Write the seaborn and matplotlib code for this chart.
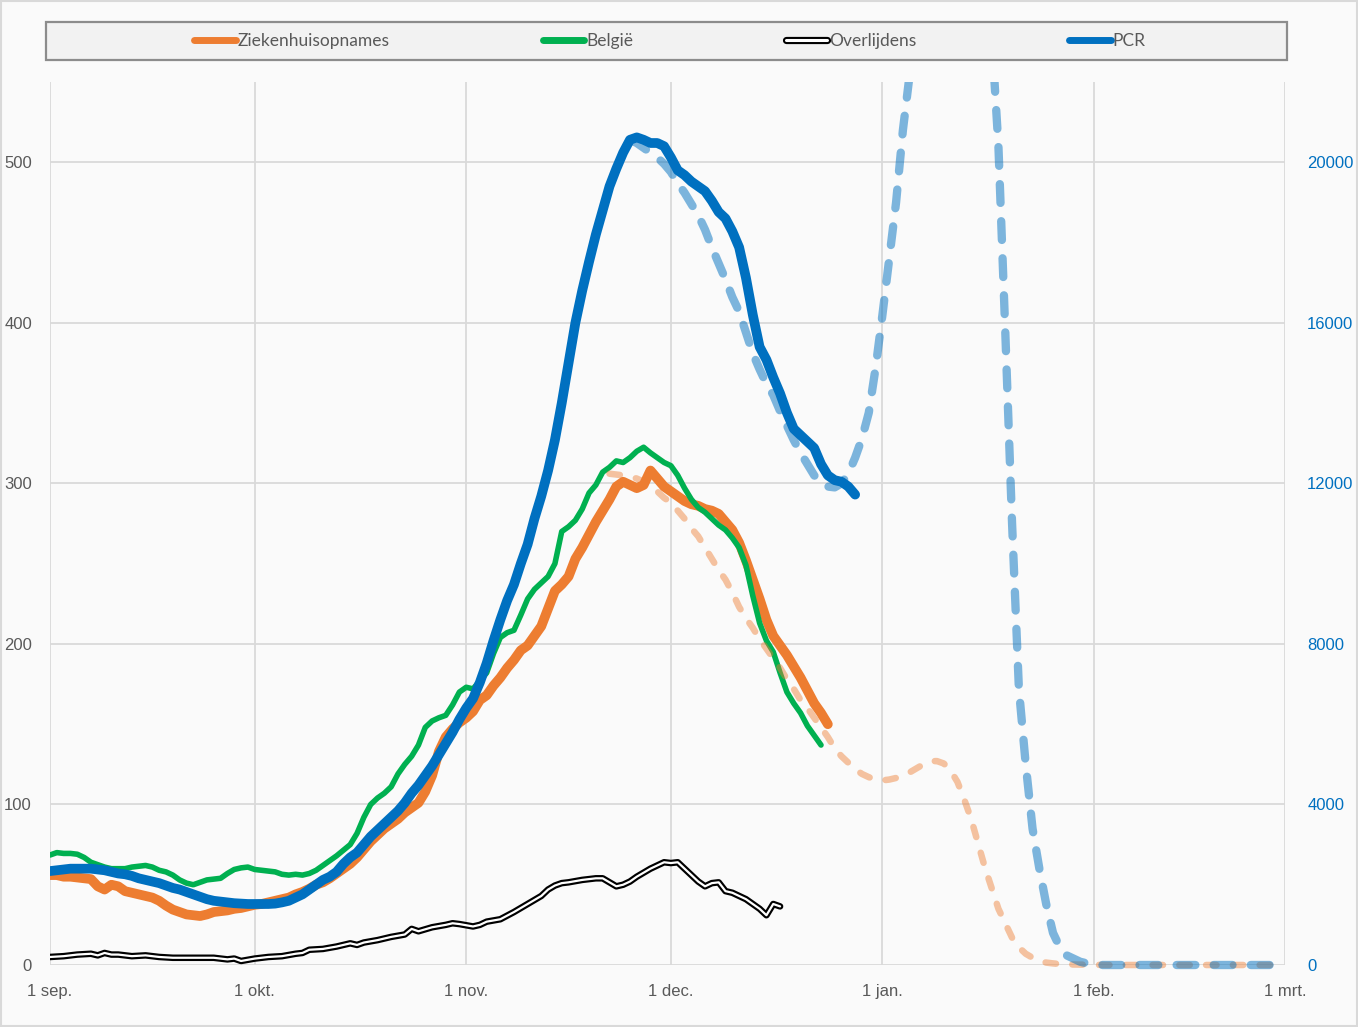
import numpy as np
import pandas as pd
import matplotlib
matplotlib.use("Agg")
import matplotlib.pyplot as plt
import matplotlib.patheffects as pe
from matplotlib.transforms import Bbox, TransformedBbox
from matplotlib.patches import Rectangle
import seaborn as sns

# ---------------- data ----------------
start = pd.Timestamp("2020-09-01")
month_ticks = ["2020-09-01", "2020-10-01", "2020-11-01", "2020-12-01",
               "2021-01-01", "2021-02-01", "2021-03-01"]
month_labels = ["1 sep.", "1 okt.", "1 nov.", "1 dec.", "1 jan.", "1 feb.", "1 mrt."]
left_ticks = [0, 100, 200, 300, 400, 500]
right_ticks = [0, 4000, 8000, 12000, 16000, 20000]

# Ziekenhuisopnames (days since 1 sep, left axis)
hosp_days = list(range(0, 115))
hosp_vals = [56, 56, 55, 55, 54.5, 54, 53.5, 49, 47, 50, 49, 46, 45, 44, 43, 42, 40, 37, 34.5, 33,
             31.5, 31, 30.5, 31.5, 33, 33.5, 34, 35, 35.5, 36.5, 37.5, 38, 39, 40, 41, 42, 44, 45.5, 47.5, 50,
             51.5, 54, 57, 60, 63, 67, 72, 77, 81, 85, 88, 91, 95, 98, 101, 108, 118, 133, 142, 147,
             151, 154, 158, 165, 168, 174, 179, 185, 190, 196, 199, 205, 211, 222, 233, 237, 242, 253, 260, 268,
             276, 283, 290, 298, 301, 299, 297, 299, 308, 303, 298, 295, 292, 289, 287, 286, 284, 283, 281, 276,
             271, 263, 252, 240, 228, 215, 205, 199, 193, 186, 179, 171, 163, 157, 150]

# België (left axis)
bel_days = list(range(0, 114))
bel_vals = [68.5, 70, 69.5, 69.5, 69, 67, 64, 62.5, 61, 60, 60, 60, 61, 61.5, 62, 61, 59, 58, 56, 53,
            51, 50, 51.5, 53, 53.5, 54, 57, 59.5, 60.5, 61, 59.5, 59, 58.5, 58, 56.5, 56, 56.5, 56, 57, 59,
            62, 65, 68, 71.5, 75, 82, 92, 100, 104, 107, 111, 119, 125, 130, 137, 148, 152, 154, 155.5, 162,
            170, 173, 172, 177, 182, 194, 204, 207, 208.5, 218, 228, 234, 238, 242, 250, 270, 273, 277, 284, 294,
            299, 307, 310, 314, 313, 316, 320, 322.5, 319, 316, 313, 311, 305, 297, 290, 285, 282, 278, 274, 271,
            266, 260, 249, 230, 213, 202, 195, 182, 170, 163, 157, 149, 143, 137]

# Overlijdens (left axis)
death_days = [0, 2, 4, 6, 7, 8, 9, 10, 12, 14, 16, 18, 20, 22, 24, 26, 27, 28, 30, 32,
              34, 36, 37, 38, 40, 42, 44, 45, 46, 48, 50, 52, 53, 54, 56, 58, 59, 60, 62, 63,
              64, 66, 68, 70, 72, 73, 74, 75, 76, 78, 80, 81, 82, 83, 84, 85, 86, 87, 88, 89,
              90, 91, 92, 93, 94, 95, 96, 97, 98, 99, 100, 101, 102, 103, 104, 105, 106, 107]
death_vals = [5, 5.5, 6.5, 7, 6, 7.5, 6.5, 6.5, 5.5, 6, 5, 4.5, 4.5, 4.5, 4.5, 3.5, 4, 2.5, 4, 5,
              5.5, 7, 7.5, 9.5, 10, 11.5, 13.5, 12.5, 14, 15.5, 17.5, 19, 22.5, 21, 23.5, 25, 26, 25.5, 24, 25,
              27, 28.5, 33, 38, 43, 47, 49.5, 51, 51.5, 53, 54, 54, 51.5, 49, 50, 52, 55, 57.5, 60, 62,
              64, 63.5, 64, 60, 56, 52, 49, 51, 51.5, 46, 45, 43, 41, 38, 35, 31, 38, 36.5]

# PCR (right axis)
pcr_days = list(range(0, 119))
pcr_vals = [2340, 2360, 2380, 2400, 2400, 2400, 2400, 2380, 2360, 2320,
            2280, 2260, 2220, 2160, 2120, 2080, 2040, 1980, 1920, 1880,
            1820, 1760, 1700, 1640, 1600, 1580, 1560, 1540, 1530, 1520,
            1520, 1520, 1520, 1530, 1560, 1600, 1680, 1760, 1880, 2000,
            2120, 2200, 2320, 2520, 2680, 2800, 3000, 3200, 3360, 3520,
            3680, 3840, 4040, 4280, 4480, 4720, 4960, 5240, 5520, 5800,
            6120, 6400, 6640, 7040, 7520, 8080, 8600, 9080, 9480, 10000,
            10480, 11120, 11680, 12320, 13080, 14000, 15000, 16000, 16800, 17520,
            18200, 18800, 19400, 19840, 20240, 20560, 20620, 20560, 20480, 20480,
            20400, 20120, 19800, 19680, 19520, 19400, 19280, 19040, 18760, 18600,
            18280, 17880, 17120, 16200, 15400, 15080, 14640, 14240, 13760, 13360,
            13200, 13040, 12880, 12480, 12200, 12080, 12040, 11920, 11720]

# Projections (dashed)
hosp_proj_days = [82, 84, 86, 88, 89, 90, 91, 92, 93, 94, 95, 96, 97, 98, 99, 100, 101, 102, 103, 104,
                  105, 106, 107, 108, 109, 110, 111, 112, 113, 114, 115, 116, 117, 118, 119, 120, 121, 122, 123, 124,
                  125, 126, 127, 128, 129, 130, 131, 132, 133, 134, 135, 136, 137, 138, 139, 140, 141, 142, 143, 144,
                  145, 146, 147, 148, 150, 155, 160, 170, 181]
hosp_proj_vals = [306, 305, 303, 299, 295, 291, 288, 283, 278, 272, 267, 260, 253, 246, 240, 232, 223, 216, 210, 203,
                  197, 191, 185, 178, 172, 165, 160, 154, 148, 142, 135, 130, 126, 122, 119, 117, 115.5, 115, 115.5, 116.5,
                  118, 120, 122.5, 125, 127, 127, 125.5, 121, 114, 103, 91, 76, 61, 48, 35, 26, 17, 11, 7, 4.5,
                  2.5, 1.5, 1, 0.6, 0.3, 0, 0, 0, 0]

pcr_proj_days = [85, 86, 87, 88, 89, 90, 91, 92, 93, 94, 95, 96, 97, 98, 99, 100, 101, 102, 103, 104,
                 105, 106, 107, 108, 109, 110, 111, 112, 113, 114, 115, 116, 117, 118, 119, 120, 121, 122, 123, 124,
                 125, 126, 127, 128, 130, 132, 134, 136, 137, 138, 139, 140, 141, 142, 143, 144, 145, 146, 147, 148,
                 149, 150, 151, 152, 153, 154, 160, 170, 181]
pcr_proj_vals = [20560, 20480, 20360, 20240, 20120, 19960, 19760, 19480, 19240, 18960,
                 18680, 18320, 17880, 17480, 17080, 16640, 16280, 15760, 15240, 14840,
                 14480, 14200, 13800, 13440, 13080, 12760, 12480, 12200, 12000, 11920,
                 11900, 12000, 12240, 12640, 13120, 13760, 14880, 16200, 17600, 19000,
                 20800, 22200, 24000, 26000, 29600, 32000, 32000, 29600, 27200, 23200,
                 20400, 15800, 11000, 6880, 5000, 3400, 2400, 1520, 800, 440,
                 240, 160, 80, 40, 20, 0, 0, 0, 0]


def to_dates(days):
    return start + pd.to_timedelta(days, unit="D")


df_hosp = pd.DataFrame({"date": to_dates(hosp_days), "v": hosp_vals})
df_bel = pd.DataFrame({"date": to_dates(bel_days), "v": bel_vals})
df_death = pd.DataFrame({"date": to_dates(death_days), "v": death_vals})
df_pcr = pd.DataFrame({"date": to_dates(pcr_days), "v": pcr_vals})
df_hosp_p = pd.DataFrame({"date": to_dates(hosp_proj_days), "v": hosp_proj_vals})
df_pcr_p = pd.DataFrame({"date": to_dates(pcr_proj_days), "v": pcr_proj_vals})

# ---------------- style ----------------
ORANGE = "#ED7D31"
GREEN = "#00B050"
BLUE = "#0070C0"
GRID = "#D9D9D9"
BG = "#FAFAFA"
TXT = "#595959"

W, H = 1358, 1027
fig = plt.figure(figsize=(W / 100, H / 100), dpi=100, facecolor=BG)
ax = fig.add_axes([50 / W, (H - 965) / H, (1285 - 50) / W, (965 - 82) / H])
ax.set_facecolor(BG)
ax2 = ax.twinx()

def last_line(a):
    return a.get_lines()[-1]

def extend_clip(line, a):
    line.set_clip_box(TransformedBbox(Bbox.from_extents(0, -0.02, 1, 1), a.transAxes))

# left-axis series
sns.lineplot(data=df_hosp, x="date", y="v", ax=ax, color=ORANGE, linewidth=7,
             solid_capstyle="round", solid_joinstyle="round", legend=False, label="Ziekenhuisopnames")
h_hosp = last_line(ax)
sns.lineplot(data=df_bel, x="date", y="v", ax=ax, color=GREEN, linewidth=4,
             solid_capstyle="round", solid_joinstyle="round", legend=False, label="België")
h_bel = last_line(ax)
sns.lineplot(data=df_death, x="date", y="v", ax=ax, color="white", linewidth=1.6,
             solid_capstyle="round", solid_joinstyle="round", legend=False, label="Overlijdens",
             path_effects=[pe.Stroke(linewidth=4.7, foreground="black"), pe.Normal()])
h_death = last_line(ax)
sns.lineplot(data=df_hosp_p, x="date", y="v", ax=ax, color=ORANGE, alpha=0.45, linewidth=4.7,
             linestyle=(0, (1.6, 2.5)), dash_capstyle="round", legend=False)
extend_clip(last_line(ax), ax)

# right-axis series
sns.lineplot(data=df_pcr, x="date", y="v", ax=ax2, color=BLUE, linewidth=7,
             solid_capstyle="round", solid_joinstyle="round", legend=False, label="PCR")
h_pcr = last_line(ax2)
sns.lineplot(data=df_pcr_p, x="date", y="v", ax=ax2, color=BLUE, alpha=0.5, linewidth=6,
             linestyle=(0, (2.25, 2.2)), dash_capstyle="round", legend=False)
extend_clip(last_line(ax2), ax2)

# axes limits / ticks
xt = pd.to_datetime(month_ticks)
ax.set_xlim(xt[0], xt[-1])
ax.set_ylim(0, 550)
ax2.set_ylim(0, 22000)
ax.set_xticks(xt)
ax.set_xticklabels(month_labels)
ax.set_yticks(left_ticks)
ax.set_yticklabels([str(t) for t in left_ticks])
ax2.set_yticks(right_ticks)
ax2.set_yticklabels([str(t) for t in right_ticks])

for a in (ax, ax2):
    for s in a.spines.values():
        s.set_visible(False)
    a.set_xlabel("")
    a.set_ylabel("")

ax.grid(True, color=GRID, linewidth=1.3)
ax.set_axisbelow(True)
ax2.grid(False)

ax.tick_params(axis="x", length=0, pad=14, labelsize=12, labelcolor=TXT)
ax.tick_params(axis="y", length=0, pad=13, labelsize=12, labelcolor=TXT)
ax2.tick_params(axis="y", length=0, pad=16, labelsize=12, labelcolor=BLUE)
for lab in ax.get_xticklabels() + ax.get_yticklabels() + ax2.get_yticklabels():
    lab.set_fontfamily(["Liberation Sans", "DejaVu Sans"])

# legend box
fig.patches.append(Rectangle((46 / W, 1 - 60 / H), (1287 - 46) / W, 38 / H,
                             transform=fig.transFigure, facecolor="#F2F2F2",
                             edgecolor="#8C8C8C", linewidth=1.6, zorder=0))
leg = fig.legend([h_hosp, h_bel, h_death, h_pcr],
                 ["Ziekenhuisopnames", "België", "Overlijdens", "PCR"],
                 loc="center", bbox_to_anchor=(670 / W, 1 - 41 / H), ncol=4,
                 frameon=False, handlelength=2.4, handletextpad=0.1, columnspacing=8.8,
                 prop={"family": ["Lato", "DejaVu Sans"], "size": 12.5})
for t in leg.get_texts():
    t.set_color(TXT)
leg_lines = leg.get_lines()
for ln in leg_lines:
    ln.set_linewidth(5)
leg_lines[2].set_linewidth(2.2)
leg_lines[2].set_path_effects([pe.Stroke(linewidth=5.2, foreground="black"), pe.Normal()])

# outer border
fig.patches.append(Rectangle((0.001, 0.001), 0.998, 0.998, transform=fig.transFigure,
                             facecolor="none", edgecolor=GRID, linewidth=1.5))

fig.savefig("out.png", dpi=100, facecolor=BG)
